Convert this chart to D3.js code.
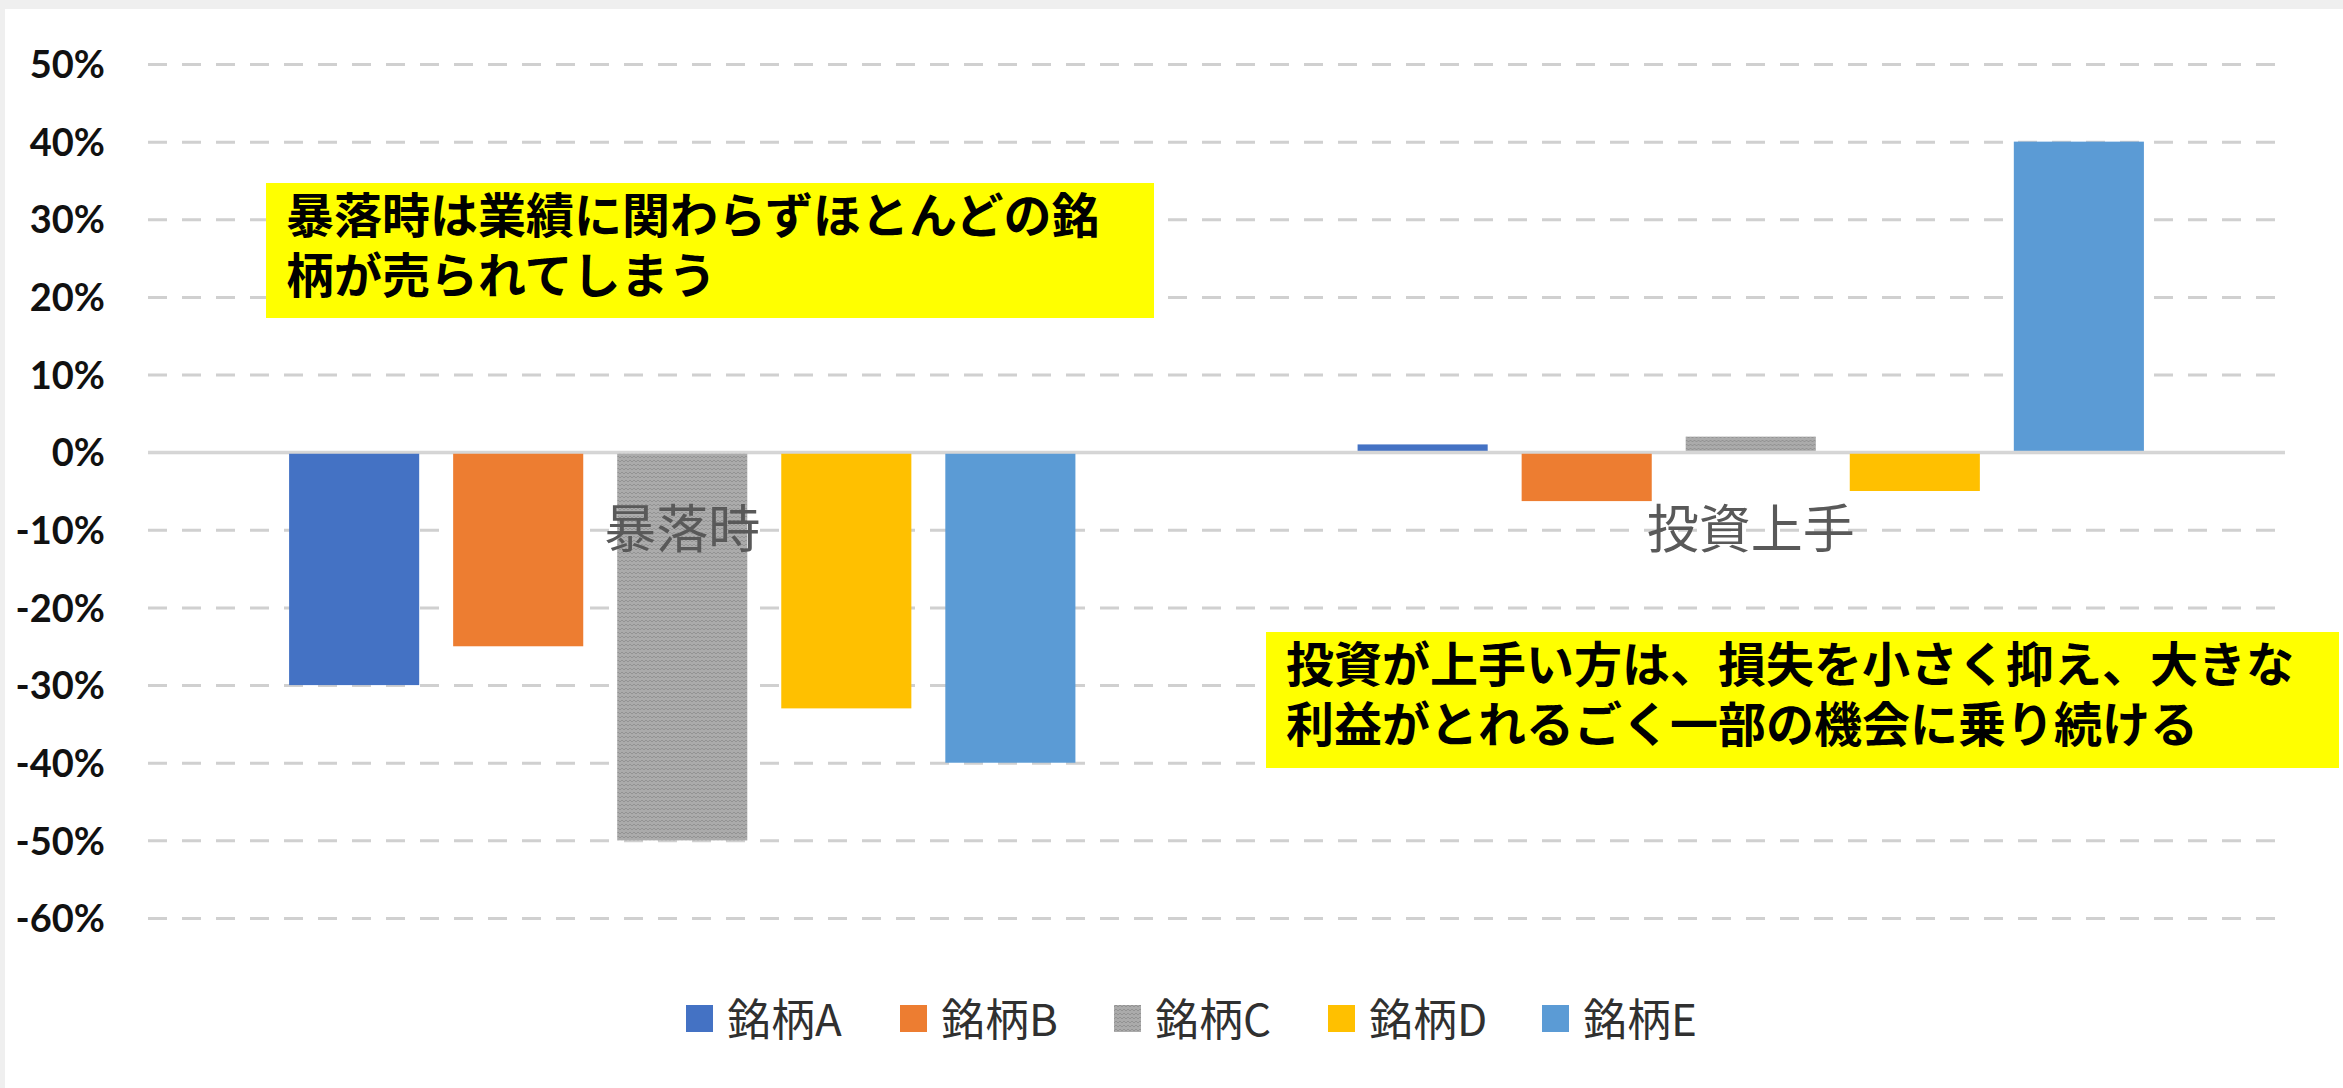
<!DOCTYPE html>
<html>
<head>
<meta charset="utf-8">
<script src="https://cdn.jsdelivr.net/npm/d3@7"></script>
<style>
  body { margin: 0; background: #efefef; }
  svg { display: block; }
</style>
</head>
<body>
<svg id="chart"></svg>
<script>
// Chart values
const categories = ['暴落時', '投資上手'];
const seriesNames = ['銘柄A', '銘柄B', '銘柄C', '銘柄D', '銘柄E'];
const crashValues = [-0.30, -0.25, -0.50, -0.33, -0.40];
const skilledValues = [0.01, -0.063, 0.02, -0.05, 0.40];
const yTicks = [0.5, 0.4, 0.3, 0.2, 0.1, 0, -0.1, -0.2, -0.3, -0.4, -0.5, -0.6];
const crashNote = ['暴落時は業績に関わらずほとんどの銘', '柄が売られてしまう'];
const skilledNote = ['投資が上手い方は、損失を小さく抑え、大きな', '利益がとれるごく一部の機会に乗り続ける'];

const width = 2343;
const height = 1088;
const padding = { top: 64, left: 148, right: 58, bottom: 170 };
const plotW = width - padding.left - padding.right;
const plotH = height - padding.top - padding.bottom;

const color = d3.scaleOrdinal()
  .domain(seriesNames)
  .range(['#4472c4', '#ed7d31', 'url(#weave)', '#ffc000', '#5b9bd5']);

// Free-floating callout boxes (layout only)
const callouts = [
  { lines: crashNote, x: 266, y: 183, w: 888, h: 135 },
  { lines: skilledNote, x: 1266, y: 632, w: 1073, h: 136 },
];

const rows = categories.map((c, i) => ({ category: c, values: [crashValues, skilledValues][i] }));

const x0 = d3.scaleBand().domain(categories).range([0, plotW]);
const x1 = d3.scaleBand()
  .domain(seriesNames)
  .range([0, x0.bandwidth()])
  .paddingInner(0.207)
  .paddingOuter(0.86);
const y = d3.scaleLinear().domain([-0.6, 0.5]).range([plotH, 0]);

const svg = d3.select('#chart').attr('width', width).attr('height', height);

const defs = svg.append('defs');
const weave = defs.append('pattern')
  .attr('id', 'weave')
  .attr('patternUnits', 'userSpaceOnUse')
  .attr('width', 8)
  .attr('height', 8);
weave.append('rect').attr('width', 8).attr('height', 8).attr('fill', '#ababab');
weave.append('path')
  .attr('d', 'M0,2 L2,0 L4,2 L6,0 L8,2 M0,6 L2,4 L4,6 L6,4 L8,6')
  .attr('fill', 'none')
  .attr('stroke', '#939393')
  .attr('stroke-width', 1);

// page frame: grey strip top/left, white card
svg.append('rect').attr('width', width).attr('height', height).attr('fill', '#efefef');
svg.append('rect').attr('x', 5).attr('y', 9).attr('width', width - 5).attr('height', height - 9).attr('fill', '#fff');

const canvas = svg.append('g').attr('transform', `translate(${padding.left}, ${padding.top})`);

canvas.call(drawGrid).call(drawBars).call(drawZeroLine).call(drawCategoryLabels);
svg.call(drawCallouts).call(drawLegend);

function drawGrid(g) {
  const axis = g.append('g')
    .attr('class', 'y-axis')
    .call(
      d3.axisLeft(y)
        .tickValues(yTicks)
        .tickSize(-plotW)
        .tickPadding(43)
        .tickFormat((d) => `${Math.round(d * 100)}%`)
    );

  axis.select('.domain').remove();

  axis.selectAll('.tick line')
    .attr('stroke', '#d0d0d0')
    .attr('stroke-width', 3)
    .attr('stroke-dasharray', (d) => (d === 0 ? null : '19 15'));

  axis.selectAll('.tick text')
    .attr('dy', '0.36em')
    .attr('fill', '#111')
    .style('font-family', 'Lato, "Liberation Sans", sans-serif')
    .style('font-weight', 700)
    .style('font-size', '38px');
}

function drawBars(g) {
  g.append('g')
    .attr('class', 'groups')
    .selectAll('g')
    .data(rows)
    .join('g')
    .attr('transform', (d) => `translate(${x0(d.category)}, 0)`)
    .selectAll('rect')
    .data((d) => d.values.map((v, i) => ({ name: seriesNames[i], value: v })))
    .join('rect')
    .attr('x', (d) => x1(d.name))
    .attr('width', x1.bandwidth())
    .attr('y', (d) => y(Math.max(0, d.value)))
    .attr('height', (d) => Math.abs(y(d.value) - y(0)))
    .attr('fill', (d) => color(d.name));
}

function drawZeroLine(g) {
  g.append('line')
    .attr('x1', 0)
    .attr('x2', plotW)
    .attr('y1', y(0))
    .attr('y2', y(0))
    .attr('stroke', '#d6d6d6')
    .attr('stroke-width', 3);
}

// category names sit just under the axis, over the bars
function drawCategoryLabels(g) {
  g.append('g')
    .selectAll('text')
    .data(categories)
    .join('text')
    .attr('x', (d) => x0(d) + x0.bandwidth() / 2)
    .attr('y', y(0) + 96)
    .attr('text-anchor', 'middle')
    .attr('fill', '#595959')
    .style('font-family', '"Noto Sans CJK JP", sans-serif')
    .style('font-size', '52px')
    .text((d) => d);
}

function drawCallouts(svg) {
  const box = svg.append('g')
    .attr('class', 'callouts')
    .selectAll('g')
    .data(callouts)
    .join('g')
    .attr('transform', (d) => `translate(${d.x}, ${d.y})`);

  box.append('rect')
    .attr('width', (d) => d.w)
    .attr('height', (d) => d.h)
    .attr('fill', '#ffff00');

  box.append('text')
    .attr('fill', '#000')
    .style('font-family', '"Noto Sans CJK JP", sans-serif')
    .style('font-weight', 700)
    .style('font-size', '48px')
    .selectAll('tspan')
    .data((d) => d.lines)
    .join('tspan')
    .attr('x', 20)
    .attr('y', (d, i) => 50 + i * 60)
    .text((d) => d);
}

function drawLegend(svg) {
  const step = 214;
  const legendX = 686;
  const legendY = 1005;
  const sw = 27;

  const item = svg.append('g')
    .attr('class', 'legend')
    .attr('transform', `translate(${legendX}, ${legendY})`)
    .selectAll('g')
    .data(seriesNames)
    .join('g')
    .attr('transform', (d, i) => `translate(${i * step}, 0)`);

  item.append('rect')
    .attr('width', sw)
    .attr('height', sw)
    .attr('fill', (d) => color(d));

  item.append('text')
    .attr('x', sw + 14)
    .attr('y', sw / 2 + 17)
    .attr('fill', '#303030')
    .style('font-family', '"Noto Sans CJK JP", sans-serif')
    .style('font-size', '44px')
    .text((d) => d);
}
</script>
</body>
</html>
